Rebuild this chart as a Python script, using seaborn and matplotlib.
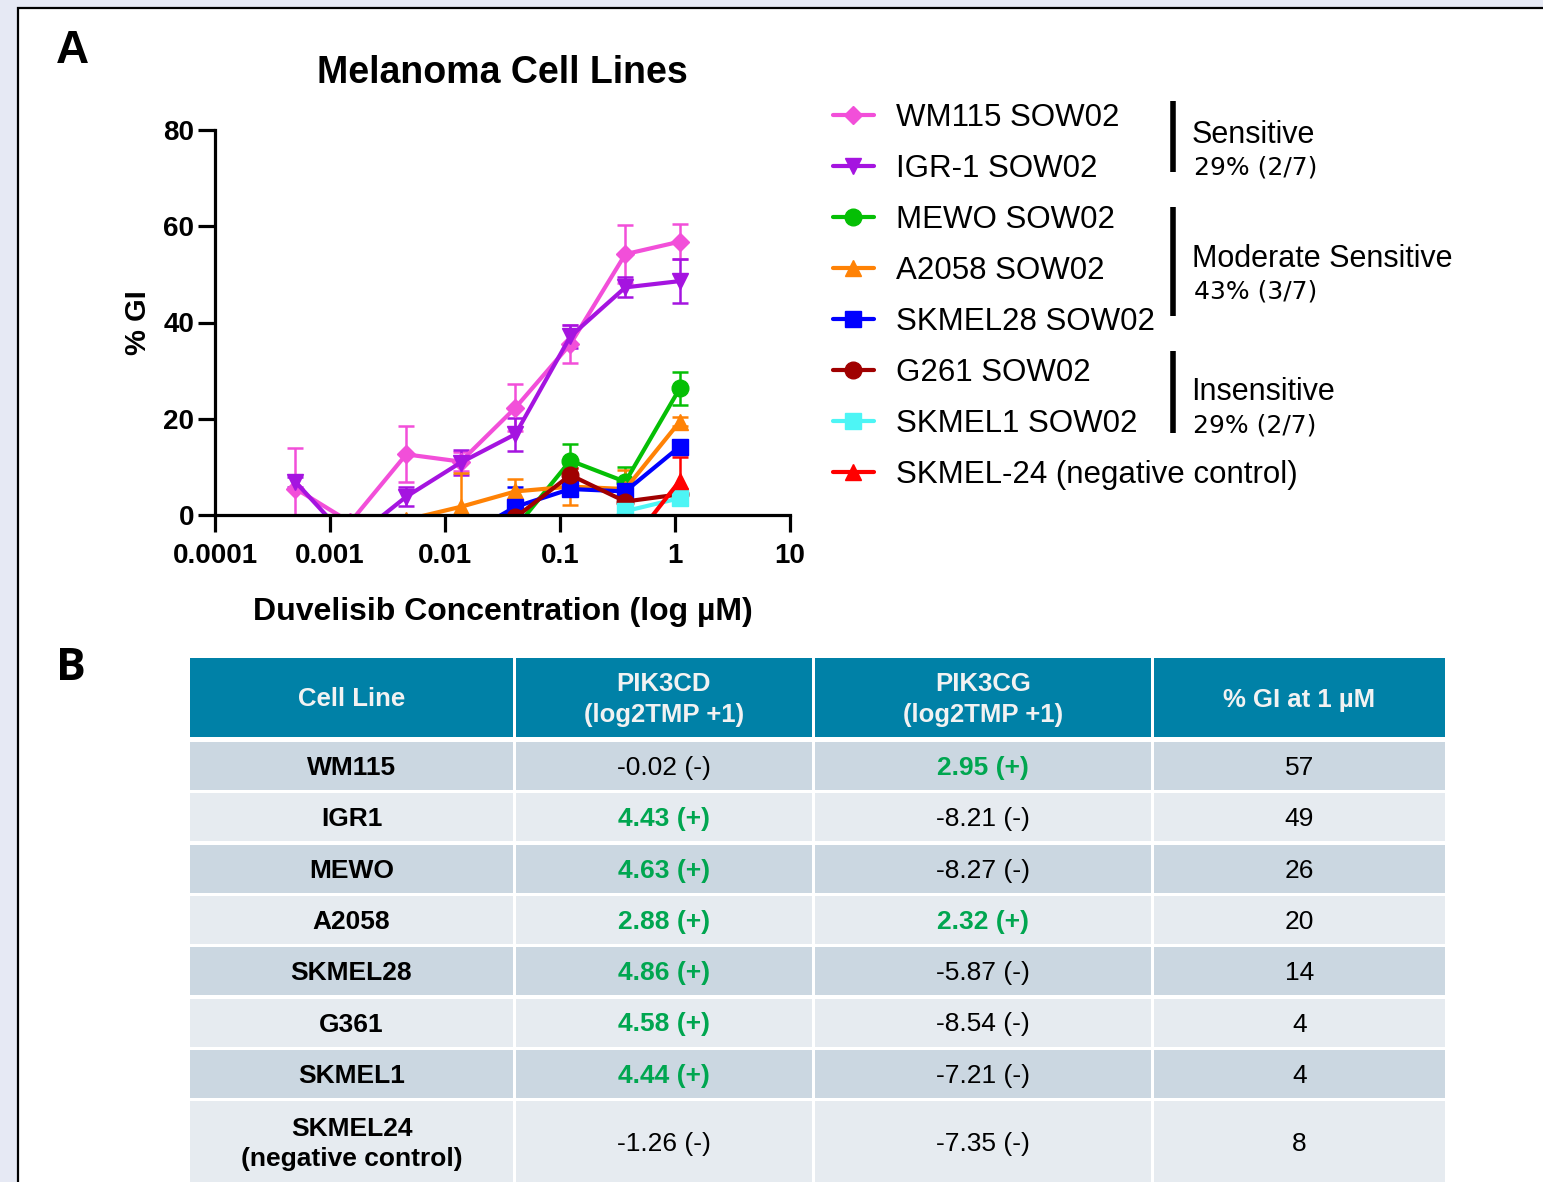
import numpy as np
import pandas as pd
import matplotlib
matplotlib.use("Agg")
import matplotlib.pyplot as plt
from matplotlib.patches import Rectangle
from matplotlib.ticker import NullLocator
import seaborn as sns

# ---- data ----
conc = [0.0005, 0.0015, 0.0046, 0.0137, 0.041, 0.123, 0.37, 1.1]
nan = np.nan

series_names = ["WM115 SOW02", "IGR-1 SOW02", "MEWO SOW02", "A2058 SOW02",
                "SKMEL28 SOW02", "G261 SOW02", "SKMEL1 SOW02",
                "SKMEL-24 (negative control)"]

wm115_gi = [5.5, -1.5, 12.6, 11.1, 22.3, 35.5, 54.2, 56.8]
wm115_sd = [8.4, 1.5, 5.8, 2.0, 4.9, 4.0, 6.0, 3.7]
igr1_gi = [6.9, -5.5, 3.8, 10.9, 16.8, 37.1, 47.3, 48.6]
igr1_sd = [1.0, 2.0, 2.0, 2.6, 3.4, 2.3, 2.1, 4.5]
mewo_gi = [nan, nan, nan, nan, -2.7, 11.3, 6.9, 26.3]
mewo_sd = [nan, nan, nan, nan, 1.0, 3.5, 3.1, 3.4]
a2058_gi = [nan, nan, -1.0, 1.7, 4.9, 5.9, 5.4, 19.4]
a2058_sd = [nan, nan, 1.0, 7.0, 2.6, 3.9, 4.0, 1.0]
skmel28_gi = [nan, nan, nan, -4.8, 1.7, 5.4, 4.9, 14.2]
skmel28_sd = [nan, nan, nan, 1.0, 4.2, 1.0, 1.0, 1.0]
g261_gi = [nan, nan, nan, nan, -0.5, 8.3, 2.8, 4.3]
g261_sd = [nan, nan, nan, nan, 1.0, 1.5, 2.5, 1.0]
skmel1_gi = [nan, nan, nan, nan, nan, -5.7, 0.8, 3.5]
skmel1_sd = [nan, nan, nan, nan, nan, 1.0, 1.0, 1.0]
skmel24_gi = [nan, nan, nan, nan, nan, nan, -7.3, 7.1]
skmel24_sd = [nan, nan, nan, nan, nan, nan, 1.0, 5.0]

series_gi = [wm115_gi, igr1_gi, mewo_gi, a2058_gi, skmel28_gi, g261_gi, skmel1_gi, skmel24_gi]
series_sd = [wm115_sd, igr1_sd, mewo_sd, a2058_sd, skmel28_sd, g261_sd, skmel1_sd, skmel24_sd]
series_colors = ["#F24FD9", "#A514E0", "#05BF05", "#FF8205",
                 "#0000FF", "#A00000", "#4DF5F5", "#FF0000"]
series_markers = ["D", "v", "o", "^", "s", "o", "s", "^"]

groups = [("Sensitive", "29% (2/7)"),
          ("Moderate Sensitive", "43% (3/7)"),
          ("Insensitive", "29% (2/7)")]

headers = ["Cell Line", "PIK3CD\n(log2TMP +1)", "PIK3CG\n(log2TMP +1)", "% GI at 1 µM"]
cell_lines = ["WM115", "IGR1", "MEWO", "A2058", "SKMEL28", "G361", "SKMEL1",
              "SKMEL24\n(negative control)"]
pik3cd = ["-0.02 (-)", "4.43 (+)", "4.63 (+)", "2.88 (+)", "4.86 (+)",
          "4.58 (+)", "4.44 (+)", "-1.26 (-)"]
pik3cg = ["2.95 (+)", "-8.21 (-)", "-8.27 (-)", "2.32 (+)", "-5.87 (-)",
          "-8.54 (-)", "-7.21 (-)", "-7.35 (-)"]
gi_1um = [57, 49, 26, 20, 14, 4, 4, 8]

# long-form table for plotting
rows = []
for name, gi, sd in zip(series_names, series_gi, series_sd):
    for c, g, s in zip(conc, gi, sd):
        rows.append({"line": name, "conc": c, "gi": g, "sd": s})
df = pd.DataFrame(rows).dropna()

# ---- figure ----
sns.set_style("ticks")
plt.rcParams["font.family"] = ["Liberation Sans", "DejaVu Sans"]
plt.rcParams["text.color"] = "black"
plt.rcParams["axes.labelcolor"] = "black"
plt.rcParams["xtick.color"] = "black"
plt.rcParams["ytick.color"] = "black"
plt.rcParams["axes.edgecolor"] = "black"

W, H = 1543, 1182
fig = plt.figure(figsize=(W / 100, H / 100), dpi=100)
fig.patch.set_facecolor("#E6E9F4")

# overlay axes in pixel coordinates for panel, legend groups and table
bg = fig.add_axes([0, 0, 1, 1])
bg.set_xlim(0, W)
bg.set_ylim(H, 0)
bg.axis("off")
bg.add_patch(Rectangle((18, 8), 1700, 1400, facecolor="white",
                       edgecolor="black", linewidth=1.6))

bg.text(56, 51, "A", fontsize=33, fontweight="bold", va="center", ha="left")
bg.text(56, 668, "B", fontsize=32, fontweight="bold", va="center", ha="left",
        family=["Open Sans", "DejaVu Sans"])

# ---- panel A: dose response ----
ax = fig.add_axes([215 / W, 1 - 515 / H, 575 / W, 385 / H])
ax.patch.set_visible(False)
ax.set_xscale("log")

handles = []
for name, color, marker in zip(series_names, series_colors, series_markers):
    sub = df[df["line"] == name]
    ax.errorbar(sub["conc"], sub["gi"], yerr=sub["sd"], fmt="none",
                ecolor=color, elinewidth=1.8, capsize=6, capthick=1.8, zorder=2)
    ms = 9.5 if marker == "D" else 12
    sns.lineplot(data=sub, x="conc", y="gi", ax=ax, color=color, marker=marker,
                 markersize=ms, markeredgecolor=color, markeredgewidth=1,
                 linewidth=3, errorbar=None, label=name, zorder=3)
    handles.append(ax.get_lines()[-1])

ax.set_xlim(1e-4, 10)
ax.set_ylim(0, 80)
ax.set_xticks([1e-4, 1e-3, 1e-2, 1e-1, 1, 10])
ax.set_xticklabels(["0.0001", "0.001", "0.01", "0.1", "1", "10"])
ax.xaxis.set_minor_locator(NullLocator())
ax.set_yticks([0, 20, 40, 60, 80])
sns.despine(ax=ax)
for sp in ["left", "bottom"]:
    ax.spines[sp].set_linewidth(2.3)
    ax.spines[sp].set_zorder(5)
ax.tick_params(axis="both", width=2.3, length=12, labelsize=20, color="black")
ax.tick_params(axis="x", pad=8)
ax.tick_params(axis="y", pad=3)
for lbl in ax.get_xticklabels() + ax.get_yticklabels():
    lbl.set_fontweight("bold")

ax.set_xlabel("Duvelisib Concentration (log µM)", fontsize=23, fontweight="bold",
              labelpad=20)
ax.set_ylabel("% GI", fontsize=21, fontweight="bold", labelpad=8)
ax.set_title("Melanoma Cell Lines", fontsize=27, fontweight="bold", pad=34)

ax.legend(handles, series_names, loc="upper left",
          bbox_to_anchor=(833 / W, 1 - 103 / H), bbox_transform=fig.transFigure,
          frameon=False, fontsize=22.5, borderpad=0, borderaxespad=0,
          handlelength=1.3, handletextpad=0.72, labelspacing=0.67)

# group brackets
bar_spans = [(101, 172), (207, 316), (351, 433)]
label_pos = [(1192, 135, 167), (1192, 259, 291), (1191, 392, 425)]
for (y0, y1), (tx, ty1, ty2), (g1, g2) in zip(bar_spans, label_pos, groups):
    bg.plot([1173, 1173], [y0, y1], color="black", linewidth=4, solid_capstyle="butt")
    bg.text(tx, ty1, g1, fontsize=22, va="center", ha="left")
    bg.text(tx + 2, ty2, g2, fontsize=18, va="center", ha="left",
            family=["DejaVu Sans"])

# ---- panel B: table ----
col_edges = [190, 516, 815, 1154, 1448]
gap = 3
header_top, header_bot = 658, 737
row_top0, row_pitch, row_h = 742, 51.3, 48
last_row_h = 82
header_color = "#0081A7"
row_colors = ["#CBD7E1", "#E6EBF0"]
green = "#00A650"

for j, htxt in enumerate(headers):
    x0, x1 = col_edges[j], col_edges[j + 1]
    bg.add_patch(Rectangle((x0, header_top), x1 - x0 - gap, header_bot - header_top,
                           facecolor=header_color, edgecolor="none"))
    bg.text((x0 + x1 - gap) / 2, (header_top + header_bot) / 2 + 2, htxt,
            fontsize=18.5, fontweight="bold", color="#F2F2F2",
            ha="center", va="center", linespacing=1.4)

table_cols = [cell_lines, pik3cd, pik3cg, [str(v) for v in gi_1um]]
for i in range(len(cell_lines)):
    top = row_top0 + row_pitch * i
    h = last_row_h if i == len(cell_lines) - 1 else row_h
    for j, col in enumerate(table_cols):
        x0, x1 = col_edges[j], col_edges[j + 1]
        bg.add_patch(Rectangle((x0, top), x1 - x0 - gap, h,
                               facecolor=row_colors[i % 2], edgecolor="none"))
        txt = col[i]
        if j == 0:
            color, weight = "black", "bold"
        elif "(+)" in txt:
            color, weight = green, "bold"
        else:
            color, weight = "black", "normal"
        bg.text((x0 + x1 - gap) / 2, top + h / 2 + 2, txt, fontsize=19,
                fontweight=weight, color=color, ha="center", va="center",
                linespacing=1.3)

fig.savefig("out.png", dpi=100, facecolor=fig.get_facecolor())
